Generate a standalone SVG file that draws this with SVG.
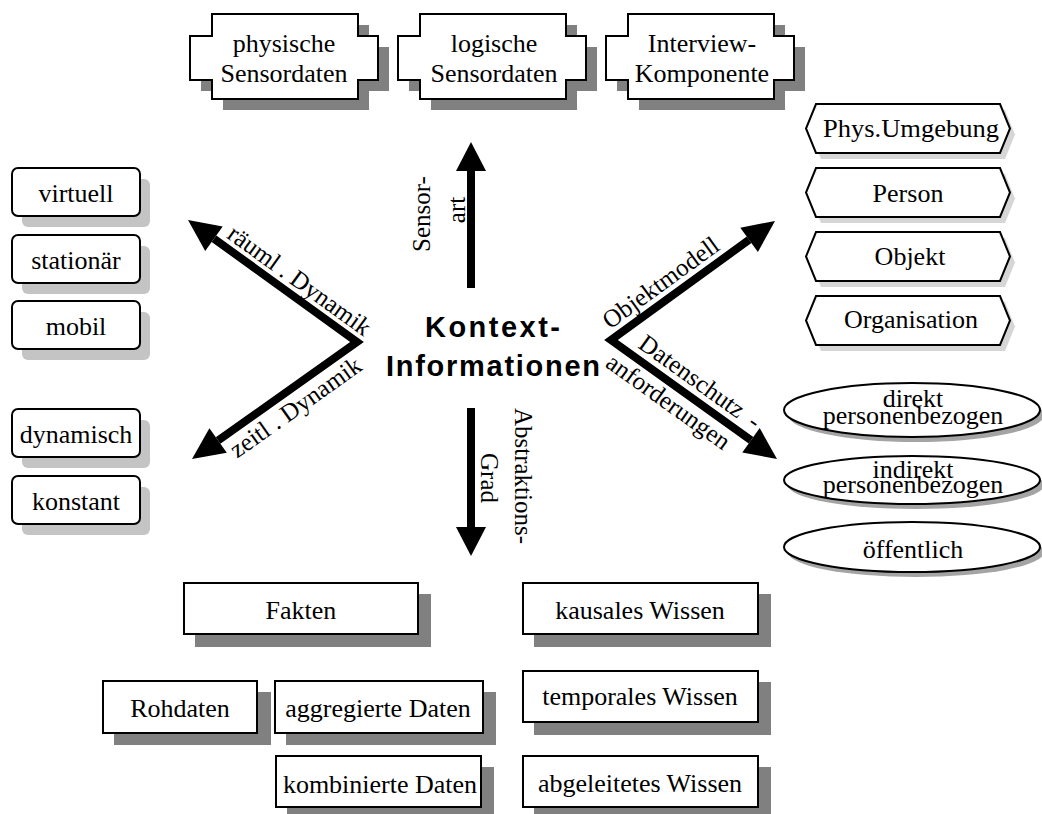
<svg xmlns="http://www.w3.org/2000/svg" width="1042" height="814" viewBox="0 0 1042 814">
  <style>
    .t { font-family: "Liberation Serif", "Times New Roman", serif; font-size: 26px; fill: #000; text-anchor: middle; }
    .lbl { font-family: "Liberation Serif", "Times New Roman", serif; font-size: 25px; fill: #000; text-anchor: middle; }
    .title { font-family: "Liberation Sans", Arial, sans-serif; font-weight: bold; font-size: 29px; fill: #000; }
    .box { fill: #fff; stroke: #000; stroke-width: 2; }
    .shadowDark { fill: #808080; }
    .shadowLight { fill: #c4c4c4; }
    .shadowPale { fill: #d6d6d6; }
    .shadowMid { fill: #a4a4a4; }
    .shaft { fill: none; stroke: #000; stroke-width: 8; stroke-linejoin: miter; stroke-miterlimit: 10; }
    .head { fill: #000; }
  </style>
  <defs>
    <path id="plaque" d="M22,0 H168 V22 H188 V66 H168 V85 H22 V66 H0 V22 H22 Z"/>
    <path id="hex" d="M10,0 H194 L204,24.5 L194,49 H10 L0,24.5 Z"/>
  </defs>

  <rect width="1042" height="814" fill="#fff"/>

  <!-- sensor types -->
  <g id="n-physisch">
    <use href="#plaque" x="201" y="25" class="shadowDark"/>
    <use href="#plaque" x="190" y="14" class="box"/>
    <text class="t" x="284" y="52">physische</text>
    <text class="t" x="284" y="82">Sensordaten</text>
  </g>
  <g id="n-logisch">
    <use href="#plaque" x="409" y="25" class="shadowDark"/>
    <use href="#plaque" x="398" y="14" class="box"/>
    <text class="t" x="494" y="52">logische</text>
    <text class="t" x="494" y="82">Sensordaten</text>
  </g>
  <g id="n-interview">
    <use href="#plaque" x="617" y="25" class="shadowDark"/>
    <use href="#plaque" x="606" y="14" class="box"/>
    <text class="t" x="702" y="52">Interview-</text>
    <text class="t" x="702" y="82">Komponente</text>
  </g>

  <!-- spatial dynamics -->
  <g id="n-virtuell">
    <rect x="22" y="179" width="128" height="48" rx="6" class="shadowLight"/>
    <rect x="12" y="168" width="128" height="48" rx="6" class="box"/>
    <text class="t" x="76" y="202">virtuell</text>
  </g>
  <g id="n-stationaer">
    <rect x="22" y="246" width="128" height="48" rx="6" class="shadowLight"/>
    <rect x="12" y="235" width="128" height="48" rx="6" class="box"/>
    <text class="t" x="76" y="269">stationär</text>
  </g>
  <g id="n-mobil">
    <rect x="22" y="312" width="128" height="48" rx="6" class="shadowLight"/>
    <rect x="12" y="301" width="128" height="48" rx="6" class="box"/>
    <text class="t" x="76" y="335">mobil</text>
  </g>

  <!-- temporal dynamics -->
  <g id="n-dynamisch">
    <rect x="22" y="420" width="128" height="48" rx="6" class="shadowLight"/>
    <rect x="12" y="409" width="128" height="48" rx="6" class="box"/>
    <text class="t" x="76" y="443">dynamisch</text>
  </g>
  <g id="n-konstant">
    <rect x="22" y="487" width="128" height="48" rx="6" class="shadowLight"/>
    <rect x="12" y="476" width="128" height="48" rx="6" class="box"/>
    <text class="t" x="76" y="510">konstant</text>
  </g>

  <!-- object model -->
  <g id="n-umgebung">
    <use href="#hex" x="811" y="110" class="shadowPale"/>
    <use href="#hex" x="806" y="104" class="box"/>
    <text class="t" x="911" y="137" textLength="176" lengthAdjust="spacingAndGlyphs">Phys.Umgebung</text>
  </g>
  <g id="n-person">
    <use href="#hex" x="811" y="174" class="shadowPale"/>
    <use href="#hex" x="806" y="168" class="box"/>
    <text class="t" x="908" y="202">Person</text>
  </g>
  <g id="n-objekt">
    <use href="#hex" x="811" y="238" class="shadowPale"/>
    <use href="#hex" x="806" y="232" class="box"/>
    <text class="t" x="910" y="265">Objekt</text>
  </g>
  <g id="n-organisation">
    <use href="#hex" x="811" y="302" class="shadowPale"/>
    <use href="#hex" x="806" y="296" class="box"/>
    <text class="t" x="911" y="328">Organisation</text>
  </g>

  <!-- privacy requirements -->
  <g id="n-direkt">
    <ellipse cx="916" cy="415" rx="128" ry="27" class="shadowMid"/>
    <ellipse cx="912" cy="410" rx="128" ry="27" class="box"/>
    <text class="t" x="913" y="407">direkt</text>
    <text class="t" x="913" y="424">personenbezogen</text>
  </g>
  <g id="n-indirekt">
    <ellipse cx="916" cy="485" rx="128" ry="24" class="shadowMid"/>
    <ellipse cx="912" cy="480" rx="128" ry="24" class="box"/>
    <text class="t" x="913" y="478">indirekt</text>
    <text class="t" x="913" y="493">personenbezogen</text>
  </g>
  <g id="n-oeffentlich">
    <ellipse cx="916" cy="552" rx="128" ry="25" class="shadowMid"/>
    <ellipse cx="912" cy="547" rx="128" ry="25" class="box"/>
    <text class="t" x="913" y="558">öffentlich</text>
  </g>

  <!-- degree of abstraction -->
  <g id="n-fakten">
    <rect x="195" y="594" width="236" height="53" class="shadowDark"/>
    <rect x="184" y="583" width="234" height="51" class="box"/>
    <text class="t" x="301" y="619">Fakten</text>
  </g>
  <g id="n-rohdaten">
    <rect x="114" y="692" width="157" height="53" class="shadowDark"/>
    <rect x="103" y="681" width="154" height="52" class="box"/>
    <text class="t" x="180" y="717">Rohdaten</text>
  </g>
  <g id="n-aggregiert">
    <rect x="286" y="692" width="210" height="53" class="shadowDark"/>
    <rect x="275" y="681" width="208" height="52" class="box"/>
    <text class="t" x="378" y="717">aggregierte Daten</text>
  </g>
  <g id="n-kombiniert">
    <rect x="287" y="767" width="207" height="53" class="shadowDark"/>
    <rect x="276" y="756" width="205" height="51" class="box"/>
    <text class="t" x="380" y="793">kombinierte Daten</text>
  </g>
  <g id="n-kausal">
    <rect x="534" y="594" width="237" height="53" class="shadowDark"/>
    <rect x="523" y="583" width="235" height="51" class="box"/>
    <text class="t" x="640" y="619">kausales Wissen</text>
  </g>
  <g id="n-temporal">
    <rect x="534" y="682" width="237" height="53" class="shadowDark"/>
    <rect x="523" y="671" width="235" height="51" class="box"/>
    <text class="t" x="640" y="705">temporales Wissen</text>
  </g>
  <g id="n-abgeleitet">
    <rect x="534" y="767" width="237" height="53" class="shadowDark"/>
    <rect x="523" y="756" width="235" height="51" class="box"/>
    <text class="t" x="640" y="792">abgeleitetes Wissen</text>
  </g>

  <!-- central concept -->
  <g id="n-kontext">
    <text class="title" x="425" y="337" textLength="135" lengthAdjust="spacing">Kontext-</text>
    <text class="title" x="386" y="376" textLength="214" lengthAdjust="spacing">Informationen</text>
  </g>

  <!-- connectors: dimension axes -->
  <g id="connectors">
    <!-- Sensorart (up) -->
    <line x1="471" y1="288" x2="471" y2="168" class="shaft"/>
    <polygon points="471,142 486,171 456,171" class="head"/>
    <text class="lbl" transform="translate(430 214) rotate(-90)"><tspan x="0" y="0">Sensor-</tspan><tspan x="4" y="35">art</tspan></text>

    <!-- Abstraktionsgrad (down) -->
    <line x1="471" y1="408" x2="471" y2="530" class="shaft"/>
    <polygon points="456,527 486,527 471,556" class="head"/>
    <text class="lbl" transform="translate(515 476) rotate(90)"><tspan x="0" y="0">Abstraktions-</tspan><tspan x="2" y="34">Grad</tspan></text>

    <!-- left pair: spatial / temporal dynamics -->
    <polyline points="214,238.7 357,342 218.1,440.5" class="shaft"/>
    <polygon points="188,220 222.7,226.6 205.2,250.9" class="head"/>
    <polygon points="192,459 209.4,428.3 226.8,452.7" class="head"/>
    <text class="lbl" transform="translate(290 293.5) rotate(35.8)" x="0" y="-8">räuml . Dynamik</text>
    <text class="lbl" transform="translate(285.2 392.9) rotate(-35.3)" x="0" y="26">zeitl . Dynamik</text>

    <!-- right pair: object model / privacy -->
    <polyline points="749.1,239.8 611,340 751,440.3" class="shaft"/>
    <polygon points="775,221 757.9,251.9 740.3,227.7" class="head"/>
    <polygon points="777,459 742.3,452.5 759.7,428.1" class="head"/>
    <text class="lbl" transform="translate(670.9 296.6) rotate(-36)" x="0" y="-9">Objektmodell</text>
    <text class="lbl" transform="translate(690 396) rotate(35.6)" x="0" y="-9">Datenschutz<tspan dx="5"> -</tspan></text>
    <text class="lbl" transform="translate(678.1 388.1) rotate(35.6)" x="0" y="25">anforderungen</text>
  </g>
</svg>
